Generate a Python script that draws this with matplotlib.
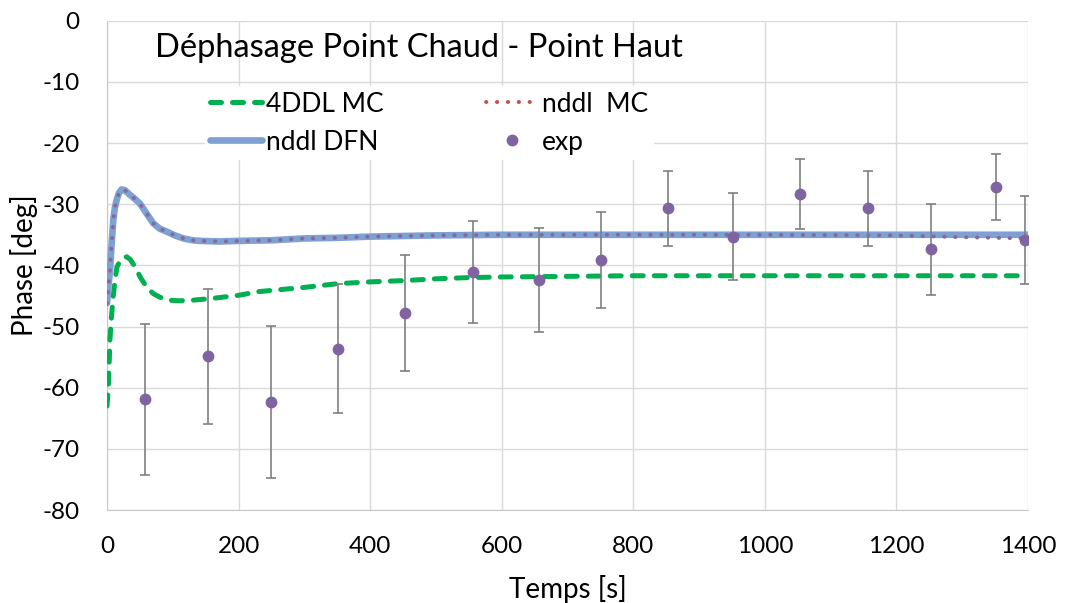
import matplotlib
matplotlib.use('Agg')
import matplotlib.pyplot as plt
from matplotlib.lines import Line2D

plt.rcParams['font.family'] = ['Lato', 'DejaVu Sans']
plt.rcParams['axes.unicode_minus'] = False

# nddl DFN (blue)
t_dfn = [0, 2, 4.5, 7, 9.5, 12, 15, 18, 22, 27, 35, 42, 50, 60, 70, 80, 91, 103, 116, 130,
         141, 170, 200, 250, 300, 350, 400, 450, 500, 600, 800, 1000, 1200, 1400]
v_dfn = [-46.2, -43.5, -40.8, -36.5, -32.6, -30.5, -29.2, -28.2, -27.6, -27.7, -28.5, -29.1,
         -29.9, -31.5, -33.1, -34.0, -34.5, -35.1, -35.6, -35.9, -36.0, -36.1, -36.0, -35.9,
         -35.6, -35.5, -35.3, -35.2, -35.1, -35.0, -35.0, -35.0, -35.0, -35.0]

# nddl MC (red dotted)
t_nmc = [0, 2, 4.5, 7, 9.5, 12, 15, 18, 22, 27, 35, 42, 50, 60, 70, 80, 91, 103, 116, 130,
         141, 170, 200, 250, 300, 350, 400, 450, 500, 600, 800, 1000, 1200, 1300, 1400]
v_nmc = [-46.2, -43.5, -40.8, -36.5, -32.6, -30.5, -29.2, -28.2, -27.6, -27.7, -28.5, -29.1,
         -29.9, -31.5, -33.1, -34.0, -34.5, -35.1, -35.6, -35.9, -36.0, -36.1, -36.0, -35.9,
         -35.6, -35.5, -35.3, -35.2, -35.1, -35.0, -35.0, -35.0, -35.1, -35.4, -35.6]

# 4DDL MC (green dashed)
t_4d = [0, 2, 4.5, 7, 9.5, 12, 15, 20, 25, 30, 35, 40, 45, 52, 60, 70, 80, 95, 110, 130,
        160, 200, 230, 260, 300, 350, 400, 450, 500, 550, 600, 700, 800, 1000, 1200, 1400]
v_4d = [-63.0, -60.0, -52.0, -48.0, -45.0, -42.5, -40.3, -39.2, -38.7, -38.6, -39.0, -39.8,
        -40.8, -42.2, -43.5, -44.6, -45.2, -45.7, -45.8, -45.7, -45.4, -44.9, -44.3, -44.0,
        -43.6, -43.0, -42.7, -42.5, -42.2, -42.0, -41.9, -41.8, -41.7, -41.7, -41.7, -41.7]

# exp
t_exp = [58, 154, 250, 351, 453, 556, 656, 751, 852, 952, 1054, 1156, 1252, 1352, 1396]
v_exp = [-61.9, -54.9, -62.3, -53.6, -47.8, -41.1, -42.4, -39.1, -30.7, -35.3, -28.3, -30.7,
         -37.4, -27.2, -35.9]
e_exp = [12.3, 11.0, 12.4, 10.6, 9.5, 8.3, 8.5, 7.9, 6.2, 7.05, 5.7, 6.2, 7.4, 5.4, 7.2]

fig = plt.figure(figsize=(10.65, 6.03), dpi=100)
ax = fig.add_axes([0.1005, 0.1542, 0.8648, 0.8115])

green = '#00B050'
blue = '#7EA1D4'
red = '#C0504D'
red_on_blue = '#86699C'
purple = '#8064A2'

ax.plot(t_4d, v_4d, color=green, lw=3.6, linestyle=(0, (2.2, 2.2)),
        dash_capstyle='round', zorder=3)
ax.plot(t_dfn, v_dfn, color=blue, lw=4.8, solid_capstyle='round', zorder=4)
ax.plot(t_nmc, v_nmc, color=red_on_blue, lw=2.8, linestyle=(0, (0.1, 2.7)),
        dash_capstyle='round', zorder=5)
ax.errorbar(t_exp, v_exp, yerr=e_exp, fmt='o', color=purple, ms=7.5,
            ecolor='#7F7F7F', elinewidth=1.2, capsize=3.5, capthick=1.2, zorder=6)

ax.set_xlim(0, 1400)
ax.set_ylim(-80, 0)
ax.set_xticks(range(0, 1401, 200))
ax.set_yticks(range(-80, 1, 10))
ax.grid(True, color='#D9D9D9', lw=1)
ax.set_axisbelow(True)
for s in ['top', 'right']:
    ax.spines[s].set_visible(False)
for s in ['left', 'bottom']:
    ax.spines[s].set_color('#C8C8C8')
ax.tick_params(length=0, labelsize=17.5, colors='black')
ax.tick_params(axis='y', pad=20)
ax.tick_params(axis='x', pad=19)
ax.set_xlabel('Temps [s]', fontsize=20, labelpad=13)
ax.set_ylabel('Phase [deg]', fontsize=20, labelpad=3)

ax.text(0.052, 0.945, 'Déphasage Point Chaud - Point Haut', transform=ax.transAxes,
        fontsize=23.5, ha='left', va='center', zorder=7)

handles = [
    Line2D([], [], color=green, lw=3.6, linestyle=(0, (2.2, 2.2)), dash_capstyle='round'),
    Line2D([], [], color=blue, lw=4.8, solid_capstyle='round'),
    Line2D([], [], color=red, lw=2.8, linestyle=(0, (0.1, 2.7)), dash_capstyle='round'),
    Line2D([], [], color=purple, marker='o', ms=7.5, linestyle='none'),
]
labels = ['4DDL MC', 'nddl DFN', 'nddl  MC', 'exp']
leg = ax.legend(handles, labels, ncol=2, loc='upper left', bbox_to_anchor=(0.106, 0.866),
                fontsize=19, frameon=True, facecolor='white', edgecolor='none',
                framealpha=1, fancybox=False, borderpad=0.2, borderaxespad=0,
                handlelength=1.97, handletextpad=0.15, columnspacing=3.9,
                labelspacing=0.5)
leg.set_zorder(8)

fig.savefig('out.png', dpi=100)
